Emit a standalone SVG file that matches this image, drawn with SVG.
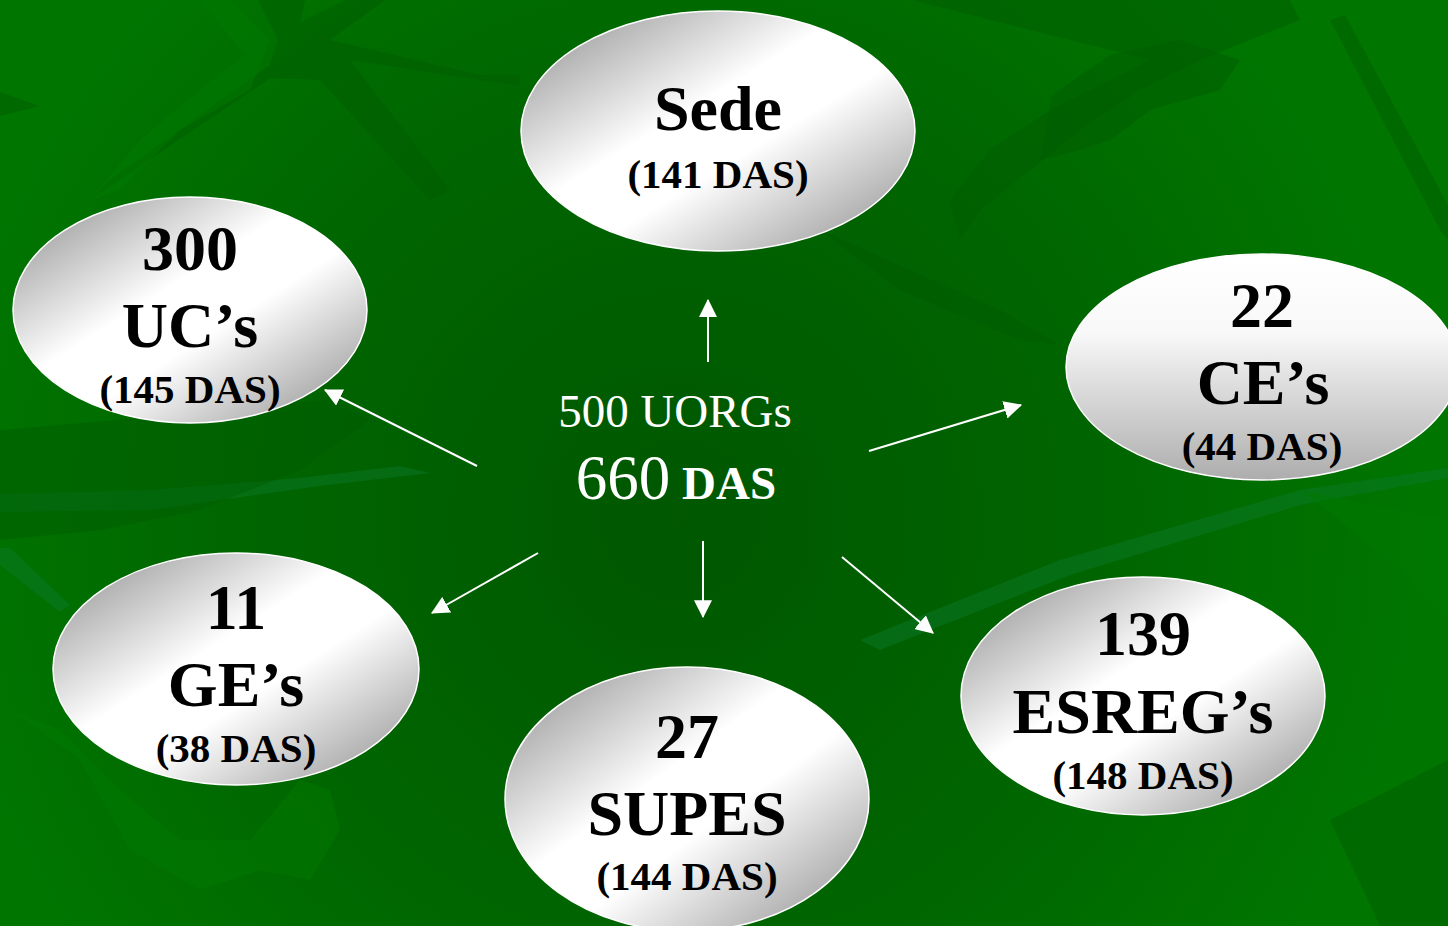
<svg xmlns="http://www.w3.org/2000/svg" width="1448" height="926" viewBox="0 0 1448 926">
<defs>
  <radialGradient id="bg" cx="680" cy="520" r="760" gradientUnits="userSpaceOnUse">
    <stop offset="0" stop-color="#005700"/>
    <stop offset="0.55" stop-color="#006500"/>
    <stop offset="1" stop-color="#007600"/>
  </radialGradient>
  <linearGradient id="diag" x1="0" y1="0" x2="1" y2="1">
    <stop offset="0" stop-color="#8a8a8a"/>
    <stop offset="0.42" stop-color="#ffffff"/>
    <stop offset="0.58" stop-color="#ffffff"/>
    <stop offset="1" stop-color="#8a8a8a"/>
  </linearGradient>
  <linearGradient id="vert" x1="0" y1="0" x2="0" y2="1">
    <stop offset="0" stop-color="#ffffff"/>
    <stop offset="0.35" stop-color="#f8f8f8"/>
    <stop offset="1" stop-color="#adadad"/>
  </linearGradient>
  <marker id="ah" markerUnits="userSpaceOnUse" markerWidth="18" markerHeight="18" viewBox="0 0 16 16" refX="15" refY="8" orient="auto">
    <path d="M0,0 L16,8 L0,16 Z" fill="#ffffff"/>
  </marker>
  <style>
    .node ellipse { stroke: #ffffff; stroke-width: 1.5; }
    .big { font-family: "Liberation Serif", "Times New Roman", serif; font-weight: bold; font-size: 64px; fill: #000; text-anchor: middle; }
    .small { font-family: "Liberation Serif", "Times New Roman", serif; font-weight: bold; font-size: 41px; fill: #000; text-anchor: middle; }
    .ctr { font-family: "Liberation Serif", "Times New Roman", serif; fill: #ffffff; }
    .conn line { stroke: #ffffff; stroke-width: 2; marker-end: url(#ah); }
    .leafD { fill: #005a00; opacity: 0.45; }
    .leafL { fill: #007a00; opacity: 0.45; }
    .streak { fill: #0a7a2c; opacity: 0.45; }
  </style>
</defs>

<g id="background">
  <rect x="0" y="0" width="1448" height="926" fill="url(#bg)"/>
  <polygon class="leafD" points="0,92 40,106 0,116"/>
  <polygon class="leafD" points="258,0 305,0 300,22 345,0 385,0 330,40 480,75 520,75 520,86 350,60 450,190 430,200 320,80 270,78 90,200 110,180 270,65 278,40"/>
  <polygon class="leafL" points="200,0 230,0 270,40 250,90 180,130 120,190 90,200 140,140 200,90 245,55"/>
  <polygon class="leafD" points="912,0 1290,0 1300,20 1200,60 1140,90 1080,130 980,210 960,240 950,200 990,150 1050,110 1150,60"/>
  <polygon class="leafD" points="1052,95 1110,55 1180,40 1240,60 1220,90 1150,110 1110,140 1080,150 1040,160"/>
  <polygon class="leafD" points="1330,20 1345,15 1448,205 1448,240 1440,230"/>
  <polygon class="streak" points="0,494 150,490 300,478 400,466 430,473 320,486 150,510 0,512"/>
  <polygon class="streak" points="0,548 10,548 70,605 60,612 0,565"/>
  <polygon class="leafD" points="0,430 120,420 200,410 330,400 370,420 300,470 200,510 100,530 0,540"/>
  <polygon class="leafL" points="10,710 80,760 130,850 200,890 260,870 310,880 340,830 330,790 300,780 250,840 180,840 120,790 60,730"/>
  <polygon class="streak" points="860,640 1060,560 1300,490 1448,468 1448,478 1300,505 1070,575 880,650"/>
  <polygon class="leafL" points="1300,490 1448,520 1448,620 1400,570 1340,520"/>
  <polygon class="leafD" points="1330,820 1448,760 1448,926 1380,926"/>
  <polygon class="leafD" points="820,230 1000,310 1060,345 1020,340 900,290"/>
</g>

<g id="connectors" class="conn">
  <line x1="708" y1="362" x2="708" y2="300"/>
  <line x1="703" y1="541" x2="703" y2="617"/>
  <line x1="477" y1="466" x2="325" y2="390"/>
  <line x1="538" y1="553" x2="432" y2="613"/>
  <line x1="869" y1="451" x2="1021" y2="405"/>
  <line x1="842" y1="557" x2="933" y2="633"/>
</g>

<g id="center">
  <text class="ctr" x="675" y="427" font-size="47" text-anchor="middle">500 UORGs</text>
  <text class="ctr" x="676" y="499" text-anchor="middle"><tspan font-size="63">660</tspan><tspan font-size="47" font-weight="bold"> DAS</tspan></text>
</g>

<g id="node-sede" class="node">
  <ellipse cx="718" cy="131" rx="197" ry="120" fill="url(#diag)"/>
  <text class="big" x="718" y="130" font-size="62">Sede</text>
  <text class="small" x="718" y="188">(141 DAS)</text>
</g>

<g id="node-ucs" class="node">
  <ellipse cx="190" cy="310" rx="177" ry="113" fill="url(#diag)"/>
  <text class="big" x="190" y="270">300</text>
  <text class="big" x="190" y="347">UC’s</text>
  <text class="small" x="190" y="403">(145 DAS)</text>
</g>

<g id="node-ces" class="node">
  <ellipse cx="1262" cy="367" rx="196" ry="113" fill="url(#vert)"/>
  <text class="big" x="1262" y="327">22</text>
  <text class="big" x="1263" y="404">CE’s</text>
  <text class="small" x="1262" y="460">(44 DAS)</text>
</g>

<g id="node-ges" class="node">
  <ellipse cx="236" cy="669" rx="183" ry="116" fill="url(#diag)"/>
  <text class="big" x="236" y="629">11</text>
  <text class="big" x="236" y="706">GE’s</text>
  <text class="small" x="236" y="762">(38 DAS)</text>
</g>

<g id="node-supes" class="node">
  <ellipse cx="687" cy="799" rx="182" ry="132" fill="url(#diag)"/>
  <text class="big" x="687" y="758">27</text>
  <text class="big" x="687" y="835">SUPES</text>
  <text class="small" x="687" y="890">(144 DAS)</text>
</g>

<g id="node-esreg" class="node">
  <ellipse cx="1143" cy="696" rx="182" ry="119" fill="url(#diag)"/>
  <text class="big" x="1143" y="655">139</text>
  <text class="big" x="1143" y="733">ESREG’s</text>
  <text class="small" x="1143" y="789">(148 DAS)</text>
</g>
</svg>
